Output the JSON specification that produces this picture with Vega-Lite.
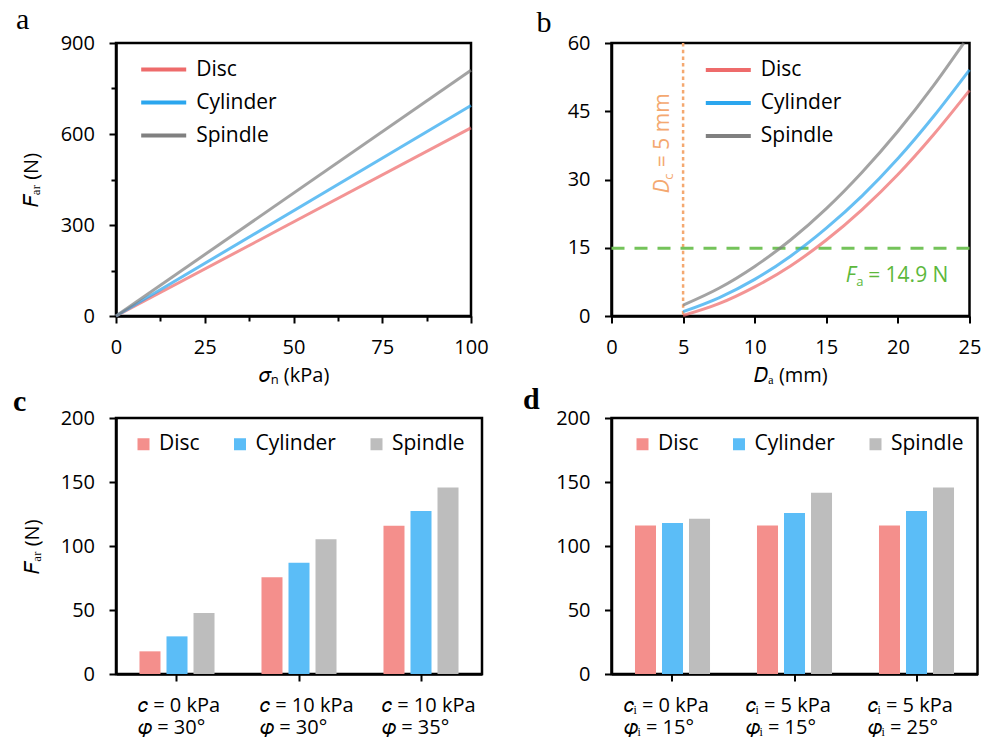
{
  "$schema": "https://vega.github.io/schema/vega-lite/v6.json",
  "autosize": "none",
  "padding": {"left": 116, "top": 43, "right": 872, "bottom": 700},
  "background": "white",
  "columns": 2,
  "align": "all",
  "bounds": "flush",
  "spacing": {"row": 102, "column": 129.5},
  "resolve": {"scale": {"color": "independent", "x": "independent", "y": "independent"}, "legend": {"color": "independent"}},
  "config": {
    "font": "Open Sans",
    "view": {"stroke": "black", "strokeWidth": 2.5},
    "axis": {"domainColor": "black", "domainWidth": 2.5, "tickColor": "black", "tickWidth": 2, "tickSize": 7, "labelFont": "Open Sans", "labelFontSize": 20, "labelColor": "black", "labelPadding": 14.5, "titleFont": "Open Sans", "titleFontSize": 20, "titleFontWeight": "normal", "titleColor": "black", "grid": false, "labelOverlap": false, "labelFlush": false},
    "title": {"font": "Liberation Serif", "fontSize": 30, "anchor": "start", "frame": "group", "color": "black", "offset": 0, "baseline": "alphabetic"}
  },
  "concat": [
    {
      "width": 355, "height": 273,
      "title": {"text": "a", "dx": -100, "dy": 6, "fontWeight": "normal"},
      "data": {"values": [
        {"Shape": "Disc", "sigma": 0, "F": 0}, {"Shape": "Disc", "sigma": 100, "F": 620},
        {"Shape": "Cylinder", "sigma": 0, "F": 0}, {"Shape": "Cylinder", "sigma": 100, "F": 694},
        {"Shape": "Spindle", "sigma": 0, "F": 0}, {"Shape": "Spindle", "sigma": 100, "F": 810}
      ]},
      "mark": {"type": "line", "strokeWidth": 3, "opacity": 0.72},
      "encoding": {
        "x": {"field": "sigma", "type": "quantitative", "scale": {"domain": [0, 100], "nice": false},
          "axis": {"values": [0, 12.5, 25, 37.5, 50, 62.5, 75, 87.5, 100], "labelExpr": "datum.value % 25 === 0 ? datum.label : ''", "tickSize": {"condition": {"test": "datum.value % 25 === 0", "value": 7}, "value": 5}, "title": "𝜎ₙ (kPa)", "titlePadding": 8}},
        "y": {"field": "F", "type": "quantitative", "scale": {"domain": [0, 900], "nice": false},
          "axis": {"values": [0, 150, 300, 450, 600, 750, 900], "labelExpr": "datum.value % 300 === 0 ? datum.label : ''", "tickSize": {"condition": {"test": "datum.value % 300 === 0", "value": 7}, "value": 5}, "title": "𝐹ₐᵣ (N)", "titlePadding": 18.5}},
        "color": {"field": "Shape", "type": "nominal",
          "scale": {"domain": ["Disc", "Cylinder", "Spindle"], "range": ["#EE6B6B", "#2BA6EE", "#808080"]},
          "legend": {"orient": "none", "legendX": 14.7, "legendY": 16, "title": null, "direction": "vertical", "symbolType": "M0,0L8,0", "symbolSize": 126.6, "symbolStrokeWidth": 4, "symbolOpacity": 1, "symbolFillColor": "transparent", "labelFont": "Open Sans", "labelFontSize": 21, "labelColor": "black", "labelOffset": 44.5, "rowPadding": 11, "padding": 0}}
      }
    },
    {
      "width": 358, "height": 273,
      "title": {"text": "b", "dx": -75, "dy": 8.5, "fontWeight": "normal"},
      "layer": [
        {
          "data": {"values": [{}]},
          "mark": {"type": "rule", "color": "#F4A870", "strokeWidth": 2.5, "strokeDash": [3.5, 3.2]},
          "encoding": {"x": {"datum": 5}}
        },
        {
          "data": {"values": [{}]},
          "mark": {"type": "rule", "color": "#74C35A", "strokeWidth": 3, "strokeDash": [13, 10]},
          "encoding": {"y": {"datum": 14.9}}
        },
        {
          "data": {"values": [
            {"Shape": "Disc", "Da": 5, "F": 0.1}, {"Shape": "Disc", "Da": 7.5, "F": 2.7}, {"Shape": "Disc", "Da": 10, "F": 6.4}, {"Shape": "Disc", "Da": 12.5, "F": 11.0}, {"Shape": "Disc", "Da": 15, "F": 16.7}, {"Shape": "Disc", "Da": 17.5, "F": 23.4}, {"Shape": "Disc", "Da": 20, "F": 31.1}, {"Shape": "Disc", "Da": 22.5, "F": 39.9}, {"Shape": "Disc", "Da": 25, "F": 49.6},
            {"Shape": "Cylinder", "Da": 5, "F": 0.95}, {"Shape": "Cylinder", "Da": 7.5, "F": 4.0}, {"Shape": "Cylinder", "Da": 10, "F": 8.05}, {"Shape": "Cylinder", "Da": 12.5, "F": 13.15}, {"Shape": "Cylinder", "Da": 15, "F": 19.3}, {"Shape": "Cylinder", "Da": 17.5, "F": 26.4}, {"Shape": "Cylinder", "Da": 20, "F": 34.6}, {"Shape": "Cylinder", "Da": 22.5, "F": 43.9}, {"Shape": "Cylinder", "Da": 25, "F": 54.1},
            {"Shape": "Spindle", "Da": 5, "F": 2.4}, {"Shape": "Spindle", "Da": 7.5, "F": 6.1}, {"Shape": "Spindle", "Da": 10, "F": 10.9}, {"Shape": "Spindle", "Da": 12.5, "F": 16.7}, {"Shape": "Spindle", "Da": 15, "F": 23.6}, {"Shape": "Spindle", "Da": 17.5, "F": 31.6}, {"Shape": "Spindle", "Da": 20, "F": 40.6}, {"Shape": "Spindle", "Da": 22.5, "F": 50.7}, {"Shape": "Spindle", "Da": 24.6, "F": 60}
          ]},
          "mark": {"type": "line", "strokeWidth": 3, "opacity": 0.72, "interpolate": "monotone"},
          "encoding": {
            "x": {"field": "Da", "type": "quantitative", "scale": {"domain": [0, 25], "nice": false},
              "axis": {"values": [0, 2.5, 5, 7.5, 10, 12.5, 15, 17.5, 20, 22.5, 25], "labelExpr": "datum.value % 5 === 0 ? datum.label : ''", "tickSize": {"condition": {"test": "datum.value % 5 === 0", "value": 7}, "value": 5}, "title": "𝐷ₐ (mm)", "titlePadding": 8}},
            "y": {"field": "F", "type": "quantitative", "scale": {"domain": [0, 60], "nice": false},
              "axis": {"values": [0, 7.5, 15, 22.5, 30, 37.5, 45, 52.5, 60], "labelExpr": "datum.value % 15 === 0 ? datum.label : ''", "tickSize": {"condition": {"test": "datum.value % 15 === 0", "value": 7}, "value": 5}, "title": null}},
            "color": {"field": "Shape", "type": "nominal",
              "scale": {"domain": ["Disc", "Cylinder", "Spindle"], "range": ["#EE6B6B", "#2BA6EE", "#808080"]},
              "legend": {"orient": "none", "legendX": 83.8, "legendY": 16.5, "title": null, "direction": "vertical", "symbolType": "M0,0L8,0", "symbolSize": 126.6, "symbolStrokeWidth": 4, "symbolOpacity": 1, "symbolFillColor": "transparent", "labelFont": "Open Sans", "labelFontSize": 21, "labelColor": "black", "labelOffset": 44.5, "rowPadding": 11, "padding": 0}}
          }
        },
        {
          "data": {"values": [{}]},
          "mark": {"type": "text", "text": "D", "angle": 270, "align": "left", "baseline": "alphabetic", "font": "Open Sans", "fontStyle": "italic", "fontSize": 21, "color": "#F4A870", "dy": -14},
          "encoding": {"x": {"datum": 5}, "y": {"datum": 27}}
        },
        {
          "data": {"values": [{}]},
          "mark": {"type": "text", "text": "c", "angle": 270, "align": "left", "baseline": "alphabetic", "font": "Open Sans", "fontSize": 13, "color": "#F4A870", "dx": 13.3, "dy": -10},
          "encoding": {"x": {"datum": 5}, "y": {"datum": 27}}
        },
        {
          "data": {"values": [{}]},
          "mark": {"type": "text", "text": "= 5 mm", "angle": 270, "align": "left", "baseline": "alphabetic", "font": "Open Sans", "fontSize": 21, "color": "#F4A870", "dx": 26, "dy": -14},
          "encoding": {"x": {"datum": 5}, "y": {"datum": 27}}
        },
        {
          "data": {"values": [{}]},
          "mark": {"type": "text", "text": "F", "align": "left", "baseline": "alphabetic", "font": "Open Sans", "fontStyle": "italic", "fontSize": 21, "color": "#5CB83C"},
          "encoding": {"x": {"datum": 16.35}, "y": {"datum": 7.5}}
        },
        {
          "data": {"values": [{}]},
          "mark": {"type": "text", "text": "a", "align": "left", "baseline": "alphabetic", "font": "Open Sans", "fontSize": 13, "color": "#5CB83C", "dx": 10.5, "dy": 4.5},
          "encoding": {"x": {"datum": 16.35}, "y": {"datum": 7.5}}
        },
        {
          "data": {"values": [{}]},
          "mark": {"type": "text", "text": "= 14.9 N", "align": "left", "baseline": "alphabetic", "font": "Open Sans", "fontSize": 21, "color": "#5CB83C", "dx": 22.5},
          "encoding": {"x": {"datum": 16.35}, "y": {"datum": 7.5}}
        }
      ]
    },
    {
      "width": 366, "height": 256,
      "title": {"text": "c", "dx": -103, "dy": 12.5, "fontWeight": "bold"},
      "data": {"values": [
        {"Condition": "c = 0 kPa, φ = 30°", "Shape": "Disc", "F": 17.7},
        {"Condition": "c = 0 kPa, φ = 30°", "Shape": "Cylinder", "F": 29.4},
        {"Condition": "c = 0 kPa, φ = 30°", "Shape": "Spindle", "F": 47.7},
        {"Condition": "c = 10 kPa, φ = 30°", "Shape": "Disc", "F": 75.5},
        {"Condition": "c = 10 kPa, φ = 30°", "Shape": "Cylinder", "F": 87.0},
        {"Condition": "c = 10 kPa, φ = 30°", "Shape": "Spindle", "F": 105.2},
        {"Condition": "c = 10 kPa, φ = 35°", "Shape": "Disc", "F": 115.9},
        {"Condition": "c = 10 kPa, φ = 35°", "Shape": "Cylinder", "F": 127.3},
        {"Condition": "c = 10 kPa, φ = 35°", "Shape": "Spindle", "F": 145.8}
      ]},
      "mark": {"type": "bar"},
      "encoding": {
        "x": {"field": "Condition", "type": "nominal", "sort": null, "scale": {"paddingInner": 0.385, "paddingOuter": 0.1925},
          "axis": {"title": null, "labelAngle": 0, "labelAlign": "left", "labelBaseline": "top", "labelOffset": -39, "labelFontSize": 20, "labelLineHeight": 22.5, "labelPadding": 14, "labelExpr": "split(replace(replace(datum.label, 'c =', '𝑐 ='), 'φ =', '𝜑 ='), ', ')"}},
        "xOffset": {"field": "Shape", "type": "nominal", "sort": ["Disc", "Cylinder", "Spindle"], "scale": {"paddingInner": 0.222, "paddingOuter": 0}},
        "y": {"field": "F", "type": "quantitative", "scale": {"domain": [0, 200], "nice": false},
          "axis": {"values": [0, 50, 100, 150, 200], "title": "𝐹ₐᵣ (N)", "titlePadding": 18}},
        "color": {"field": "Shape", "type": "nominal", "sort": ["Disc", "Cylinder", "Spindle"],
          "scale": {"domain": ["Disc", "Cylinder", "Spindle"], "range": ["#F48F8C", "#5BBDF7", "#BDBDBD"]},
          "legend": {"orient": "none", "legendX": 17, "legendY": 15.5, "title": null, "direction": "horizontal", "symbolType": "square", "symbolSize": 144, "symbolStrokeWidth": 0, "labelFont": "Open Sans", "labelFontSize": 21, "labelColor": "black", "labelOffset": 5, "columnPadding": 29.5, "padding": 0}}
      }
    },
    {
      "width": 366, "height": 256,
      "title": {"text": "d", "dx": -88.5, "dy": 11, "fontWeight": "bold"},
      "data": {"values": [
        {"Condition": "ci = 0 kPa, φi = 15°", "Shape": "Disc", "F": 116.0},
        {"Condition": "ci = 0 kPa, φi = 15°", "Shape": "Cylinder", "F": 118.0},
        {"Condition": "ci = 0 kPa, φi = 15°", "Shape": "Spindle", "F": 121.3},
        {"Condition": "ci = 5 kPa, φi = 15°", "Shape": "Disc", "F": 116.0},
        {"Condition": "ci = 5 kPa, φi = 15°", "Shape": "Cylinder", "F": 125.8},
        {"Condition": "ci = 5 kPa, φi = 15°", "Shape": "Spindle", "F": 141.6},
        {"Condition": "ci = 5 kPa, φi = 25°", "Shape": "Disc", "F": 116.0},
        {"Condition": "ci = 5 kPa, φi = 25°", "Shape": "Cylinder", "F": 127.3},
        {"Condition": "ci = 5 kPa, φi = 25°", "Shape": "Spindle", "F": 145.8}
      ]},
      "mark": {"type": "bar"},
      "encoding": {
        "x": {"field": "Condition", "type": "nominal", "sort": null, "scale": {"paddingInner": 0.385, "paddingOuter": 0.1925},
          "axis": {"title": null, "labelAngle": 0, "labelAlign": "left", "labelBaseline": "top", "labelOffset": -49, "labelFontSize": 20, "labelLineHeight": 22.5, "labelPadding": 14, "labelExpr": "split(replace(replace(datum.label, 'ci =', '𝑐ᵢ ='), 'φi =', '𝜑ᵢ ='), ', ')"}},
        "xOffset": {"field": "Shape", "type": "nominal", "sort": ["Disc", "Cylinder", "Spindle"], "scale": {"paddingInner": 0.222, "paddingOuter": 0}},
        "y": {"field": "F", "type": "quantitative", "scale": {"domain": [0, 200], "nice": false},
          "axis": {"values": [0, 50, 100, 150, 200], "title": null}},
        "color": {"field": "Shape", "type": "nominal", "sort": ["Disc", "Cylinder", "Spindle"],
          "scale": {"domain": ["Disc", "Cylinder", "Spindle"], "range": ["#F48F8C", "#5BBDF7", "#BDBDBD"]},
          "legend": {"orient": "none", "legendX": 20.5, "legendY": 15.5, "title": null, "direction": "horizontal", "symbolType": "square", "symbolSize": 144, "symbolStrokeWidth": 0, "labelFont": "Open Sans", "labelFontSize": 21, "labelColor": "black", "labelOffset": 5, "columnPadding": 29.5, "padding": 0}}
      }
    }
  ]
}
